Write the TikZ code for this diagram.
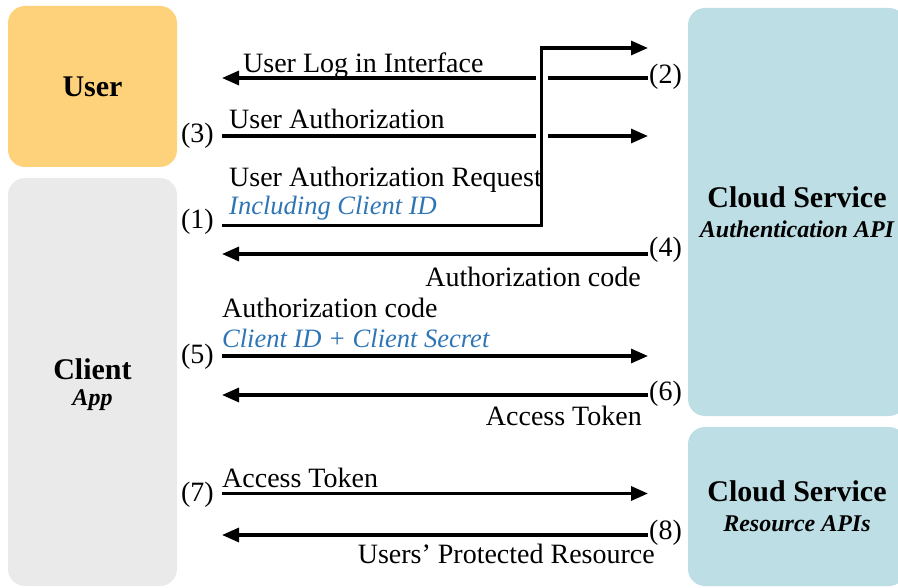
\documentclass[tikz,border=0pt]{standalone}
\usepackage{fontspec}
\setmainfont{Liberation Serif}
\usepackage{xcolor}
\usepackage{tikz}
\usetikzlibrary{positioning}
\usetikzlibrary{arrows, arrows.meta}

\definecolor{userorange}{RGB}{254,210,122}
\definecolor{clientgray}{RGB}{234,234,234}
\definecolor{cloudblue}{RGB}{188,222,228}
\definecolor{noteblue}{RGB}{46,117,182}

\begin{document}
\begin{tikzpicture}[x=1pt, y=-1pt,
  party/.style={rounded corners=17pt, inner sep=0pt, align=center,
    font=\fontsize{30}{32}\selectfont\bfseries},
  msg/.style={line width=3.2pt, -{Triangle[length=17pt, width=14pt]}},
  lbl/.style={inner sep=0pt, font=\fontsize{28}{30}\selectfont},
  note/.style={lbl, text=noteblue, font=\fontsize{26.5}{30}\selectfont\itshape}]
  \def\lx{222}
  \def\rx{648}
  \def\cx{541.5}
  \def\numl{214}
  \def\numr{649}

  \useasboundingbox (0,0) rectangle (898,588);

  \node[party, fill=userorange, minimum width=169pt, minimum height=161pt] (user) at (92.5,86.5) {User};
  \node[party, fill=clientgray, minimum width=169pt, minimum height=408pt, text depth=0pt] (client) at (92.5,382)
    {\raisebox{-4pt}{Client}\\[-2pt]{\fontsize{24}{26}\selectfont\itshape App}};
  \node[party, fill=cloudblue, minimum width=218pt, minimum height=408pt] (auth) at (797,212)
    {Cloud Service\\[-2pt]{\fontsize{24}{26}\selectfont\itshape Authentication API}};
  \node[party, fill=cloudblue, minimum width=218pt, minimum height=159pt] (res) at (797,506.5)
    {Cloud Service\\[-2pt]{\fontsize{24}{26}\selectfont\itshape Resource APIs}};

  % end points of the messages
  \coordinate (m2r) at (\rx,78);     \coordinate (m2l) at (\lx,78);
  \coordinate (m3l) at (\lx,136);    \coordinate (m3r) at (\rx,136);
  \coordinate (m1l) at (\lx,225.5);  \coordinate (m1c) at (\cx,225.5);
  \coordinate (m1b) at (\cx,48);     \coordinate (m1r) at (\rx,48);
  \coordinate (m4r) at (\rx,254);    \coordinate (m4l) at (\lx,254);
  \coordinate (m5l) at (\lx,356);    \coordinate (m5r) at (\rx,356);
  \coordinate (m6r) at (\rx,395);    \coordinate (m6l) at (\lx,395);
  \coordinate (m7l) at (\lx,493.5);  \coordinate (m7r) at (\rx,493.5);
  \coordinate (m8r) at (\rx,535);    \coordinate (m8l) at (\lx,535);

  \draw[msg] (m2r) -- (m2l);
  \draw[msg] (m3l) -- (m3r);
  \draw[white, line width=12pt] (m1c) -- (m1b);
  \draw[msg] (m1l) -| (m1b) -- (m1r);
  \draw[msg] (m4r) -- (m4l);
  \draw[msg] (m5l) -- (m5r);
  \draw[msg] (m6r) -- (m6l);
  \draw[msg] (m7l) -- (m7r);
  \draw[msg] (m8r) -- (m8l);

  % step numbers
  \node[lbl, anchor=east] (n1) at (\numl,222) {(1)};
  \node[lbl, anchor=west] (n2) at (\numr,77) {(2)};
  \node[lbl, anchor=east] (n3) at (\numl,136) {(3)};
  \node[lbl, anchor=west] (n4) at (\numr,250) {(4)};
  \node[lbl, anchor=east] (n5) at (\numl,357) {(5)};
  \node[lbl, anchor=west] (n6) at (\numr,394) {(6)};
  \node[lbl, anchor=east] (n7) at (\numl,495) {(7)};
  \node[lbl, anchor=west] (n8) at (\numr,533) {(8)};

  % message texts
  \node[lbl, anchor=base west] (t2) at (243,73) {User Log in Interface};
  \node[lbl, anchor=base west] (t3) at (229,129) {User Authorization};
  \node[lbl, anchor=base west] (t1) at (229,187) {User Authorization Request};
  \node[note, anchor=base west] (t1b) at (229,215) {Including Client ID};
  \node[lbl, anchor=base east] (t4) at (641,287) {Authorization code};
  \node[lbl, anchor=base west] (t5) at (222,318) {Authorization code};
  \node[note, anchor=base west] (t5b) at (222,348) {Client ID + Client Secret};
  \node[lbl, anchor=base east] (t6) at (642,425) {Access Token};
  \node[lbl, anchor=base west] (t7) at (222,487) {Access Token};
  \node[lbl, anchor=base east] (t8) at (655,563) {Users’ Protected Resource};

\end{tikzpicture}
\end{document}
